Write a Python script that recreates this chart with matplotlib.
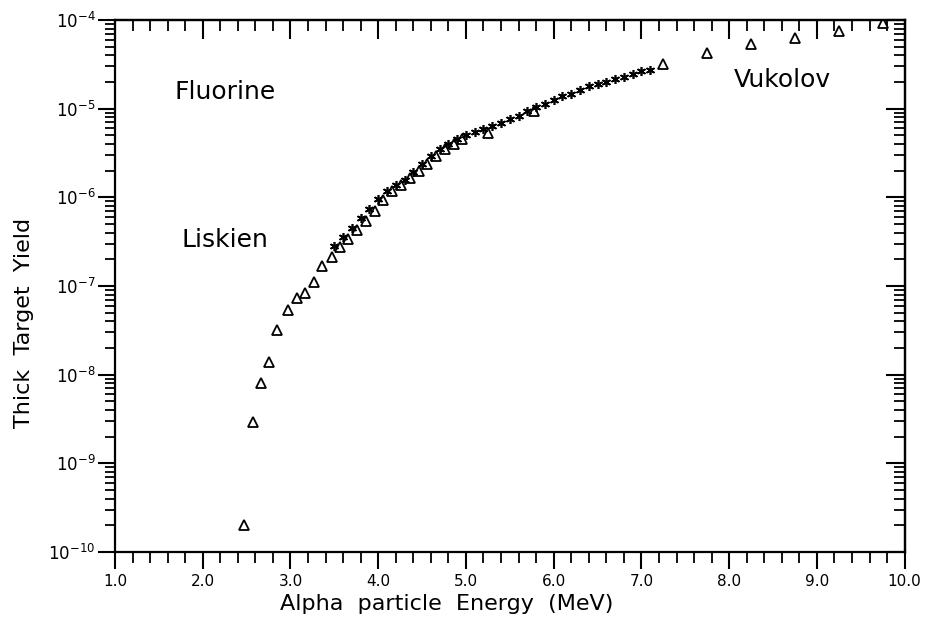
import matplotlib.pyplot as plt
import numpy as np
from matplotlib.ticker import MultipleLocator, LogLocator, FixedLocator, NullFormatter

# Liskien (triangles), low energy part
liskien_e = [2.47, 2.57, 2.66, 2.76, 2.85, 2.97, 3.08, 3.17, 3.27, 3.36, 3.47, 3.56,
             3.66, 3.76, 3.86, 3.96, 4.06, 4.16, 4.26, 4.36, 4.46, 4.56, 4.66, 4.76,
             4.86, 4.96, 5.25, 5.78]
liskien_y = [2.0e-10, 2.95e-9, 8.1e-9, 1.38e-8, 3.2e-8, 5.4e-8, 7.4e-8, 8.3e-8, 1.12e-7,
             1.66e-7, 2.1e-7, 2.75e-7, 3.4e-7, 4.3e-7, 5.4e-7, 7.1e-7, 9.3e-7, 1.17e-6,
             1.38e-6, 1.66e-6, 2.0e-6, 2.4e-6, 2.95e-6, 3.47e-6, 4.0e-6, 4.5e-6, 5.3e-6,
             9.5e-6]

# Vukolov (triangles), high energy part
vukolov_e = [7.25, 7.75, 8.25, 8.75, 9.25, 9.75]
vukolov_y = [3.2e-5, 4.2e-5, 5.4e-5, 6.3e-5, 7.5e-5, 9.2e-5]

# asterisk series
star_e = [3.5, 3.6, 3.7, 3.8, 3.9, 4.0, 4.1, 4.2, 4.3, 4.4, 4.5, 4.6, 4.7, 4.8, 4.9,
          5.0, 5.1, 5.2, 5.3, 5.4, 5.5, 5.6, 5.7, 5.8, 5.9, 6.0, 6.1, 6.2, 6.3, 6.4,
          6.5, 6.6, 6.7, 6.8, 6.9, 7.0, 7.1]
star_y = [2.8e-7, 3.6e-7, 4.5e-7, 5.9e-7, 7.4e-7, 9.5e-7, 1.17e-6, 1.38e-6, 1.58e-6,
          1.95e-6, 2.4e-6, 2.95e-6, 3.47e-6, 4.0e-6, 4.6e-6, 5.0e-6, 5.4e-6, 5.9e-6,
          6.3e-6, 6.9e-6, 7.6e-6, 8.3e-6, 9.5e-6, 1.05e-5, 1.12e-5, 1.26e-5, 1.38e-5,
          1.48e-5, 1.62e-5, 1.78e-5, 1.9e-5, 2.0e-5, 2.14e-5, 2.3e-5, 2.45e-5, 2.63e-5,
          2.75e-5]

x_ticks = [1.0, 2.0, 3.0, 4.0, 5.0, 6.0, 7.0, 8.0, 9.0, 10.0]
y_ticks = [1e-10, 1e-9, 1e-8, 1e-7, 1e-6, 1e-5, 1e-4]

fig = plt.figure(figsize=(9.25, 6.25), dpi=100)
ax = fig.add_axes([0.1243, 0.1168, 0.8537, 0.8512])

ax.plot(liskien_e, liskien_y, linestyle='none', marker='^', markersize=6.5,
        markerfacecolor='white', markeredgecolor='black', markeredgewidth=1.3)
ax.plot(vukolov_e, vukolov_y, linestyle='none', marker='^', markersize=6.5,
        markerfacecolor='white', markeredgecolor='black', markeredgewidth=1.3)
ax.plot(star_e, star_y, linestyle='none', marker=(6, 2, 0), markersize=6.5,
        color='black', markeredgewidth=1.2)

ax.set_yscale('log')
ax.set_xlim(1.0, 10.0)
ax.set_ylim(1e-10, 1e-4)

ax.xaxis.set_major_locator(FixedLocator(x_ticks))
ax.xaxis.set_minor_locator(MultipleLocator(0.2))
ax.set_xticklabels(['%.1f' % v for v in x_ticks], fontsize=11)
ax.yaxis.set_major_locator(FixedLocator(y_ticks))
ax.yaxis.set_minor_locator(LogLocator(base=10, subs=np.arange(2, 10)))
ax.yaxis.set_minor_formatter(NullFormatter())
ax.set_yticklabels(['$10^{%d}$' % int(np.log10(v)) for v in y_ticks], fontsize=12)

ax.tick_params(axis='x', which='major', direction='out', length=12, width=1.5, pad=4)
ax.tick_params(axis='x', which='minor', direction='out', length=8, width=1.3)
ax.tick_params(axis='y', which='major', direction='out', length=12, width=1.5, pad=2)
ax.tick_params(axis='y', which='minor', direction='out', length=7, width=1.3)

for s in ax.spines.values():
    s.set_linewidth(1.6)

# mirrored ticks pointing inward on top and right
top = ax.secondary_xaxis('top')
top.xaxis.set_major_locator(FixedLocator(x_ticks))
top.xaxis.set_minor_locator(MultipleLocator(0.2))
top.tick_params(which='major', direction='in', length=14, width=1.5, labeltop=False)
top.tick_params(which='minor', direction='in', length=8, width=1.3)
top.spines['top'].set_linewidth(1.6)

right = ax.secondary_yaxis('right')
right.yaxis.set_major_locator(FixedLocator(y_ticks))
right.yaxis.set_minor_locator(LogLocator(base=10, subs=np.arange(2, 10)))
right.yaxis.set_minor_formatter(NullFormatter())
right.tick_params(which='major', direction='in', length=14, width=1.5, labelright=False)
right.tick_params(which='minor', direction='in', length=8, width=1.3)
right.spines['right'].set_linewidth(1.6)

ax.set_xlabel('Alpha  particle  Energy  (MeV)', fontsize=16)
ax.set_ylabel('Thick  Target  Yield', fontsize=16)
# labels sit a bit off-centre in the original
ax.xaxis.set_label_coords(0.42, -0.079)
ax.yaxis.set_label_coords(-0.103, 0.43)

ax.text(1.68, 10**-4.81, 'Fluorine', fontsize=18, va='center', ha='left')
ax.text(1.76, 10**-6.48, 'Liskien', fontsize=18, va='center', ha='left')
ax.text(8.05, 10**-4.68, 'Vukolov', fontsize=18, va='center', ha='left')

plt.savefig('out.png', dpi=100)
